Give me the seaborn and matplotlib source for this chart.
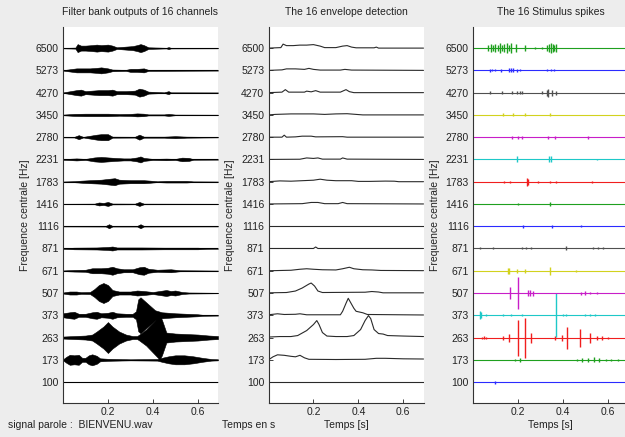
import numpy as np
import seaborn as sns
import matplotlib
matplotlib.use("Agg")
import matplotlib.pyplot as plt

# centre frequencies of the 16 channels (bottom to top)
freqs = [100, 173, 263, 373, 507, 671, 871, 1116, 1416, 1783, 2231, 2780, 3450, 4270, 5273, 6500]
time_ticks = [0.2, 0.4, 0.6]

# filter bank output: (time s, half amplitude)
fb_env = {
    100: [(0, 0.2), (0.69, 0.2)],
    173: [(0.0, 0.5), (0.015, 3), (0.03, 5), (0.05, 4.5), (0.07, 5), (0.085, 2), (0.10, 2), (0.115, 4.5), (0.13, 5.5),
          (0.15, 4), (0.165, 1.5), (0.2, 1), (0.3, 0.5), (0.42, 0.8), (0.44, 2), (0.47, 3.5), (0.5, 4.5), (0.54, 4.5),
          (0.58, 3.5), (0.62, 2), (0.66, 0.8), (0.69, 0.5)],
    263: [(0, 1), (0.05, 1.5), (0.1, 2), (0.13, 3), (0.15, 6), (0.18, 11), (0.20, 15.5), (0.22, 11), (0.25, 6), (0.28, 3),
          (0.31, 1.5), (0.33, 1.5), (0.34, 3), (0.37, 8), (0.40, 15), (0.43, 22), (0.44, 18), (0.46, 5), (0.5, 4),
          (0.55, 3.5), (0.6, 3), (0.65, 2), (0.69, 1.5)],
    373: [(0, 2), (0.03, 3), (0.05, 3.5), (0.07, 1.5), (0.10, 1.5), (0.13, 3), (0.15, 3.5), (0.17, 2), (0.2, 2.5),
          (0.22, 3.5), (0.24, 2), (0.28, 1.5), (0.31, 1.5), (0.325, 4), (0.335, 16), (0.345, 18), (0.37, 13), (0.39, 9),
          (0.41, 5), (0.44, 3), (0.5, 2), (0.55, 1.5), (0.6, 1), (0.62, 0.5), (0.69, 0.3)],
    507: [(0, 0.5), (0.03, 1.5), (0.06, 1.5), (0.08, 0.8), (0.12, 1), (0.14, 4), (0.16, 8), (0.18, 10), (0.20, 8),
          (0.22, 3), (0.25, 1.5), (0.3, 1.5), (0.33, 2.5), (0.36, 2), (0.4, 1), (0.43, 2), (0.46, 3), (0.48, 2),
          (0.5, 2.5), (0.53, 1), (0.56, 0.5), (0.69, 0.2)],
    671: [(0, 0.3), (0.05, 0.8), (0.1, 1), (0.13, 2.5), (0.17, 2.5), (0.2, 3), (0.22, 4), (0.24, 2.5), (0.27, 1.5),
          (0.31, 1.5), (0.34, 3.5), (0.36, 4), (0.38, 2), (0.42, 1), (0.48, 1.5), (0.52, 0.5), (0.69, 0.2)],
    871: [(0, 0.3), (0.05, 0.8), (0.15, 1), (0.2, 1.5), (0.22, 2), (0.24, 1), (0.35, 1), (0.45, 0.8), (0.6, 0.8),
          (0.64, 0.3), (0.69, 0.2)],
    1116: [(0, 0.2), (0.19, 0.3), (0.205, 2), (0.22, 0.3), (0.33, 0.3), (0.345, 2), (0.36, 0.3), (0.69, 0.2)],
    1416: [(0, 0.2), (0.14, 0.3), (0.16, 1.5), (0.18, 1), (0.2, 2), (0.22, 0.4), (0.32, 0.3), (0.34, 2), (0.36, 0.3),
           (0.69, 0.2)],
    1783: [(0, 0.2), (0.05, 0.5), (0.08, 1), (0.12, 1.5), (0.17, 2), (0.21, 3), (0.23, 3.5), (0.25, 2), (0.3, 1.5),
           (0.36, 1.5), (0.39, 1), (0.42, 0.4), (0.46, 0.8), (0.55, 0.8), (0.58, 0.3), (0.69, 0.2)],
    2231: [(0, 0.3), (0.06, 1), (0.1, 0.5), (0.14, 2), (0.17, 2.5), (0.2, 2), (0.23, 1.5), (0.27, 1), (0.3, 1),
           (0.33, 2), (0.345, 3), (0.36, 1.5), (0.4, 0.5), (0.46, 0.8), (0.5, 0.5), (0.53, 1.8), (0.56, 1.5),
           (0.58, 0.3), (0.69, 0.2)],
    2780: [(0, 0.2), (0.05, 0.3), (0.07, 2), (0.09, 0.3), (0.15, 2.5), (0.17, 3), (0.20, 3), (0.22, 0.5), (0.32, 0.4),
           (0.34, 2.5), (0.36, 0.5), (0.45, 0.5), (0.5, 1), (0.55, 0.5), (0.69, 0.2)],
    3450: [(0, 0.3), (0.05, 1), (0.1, 1.2), (0.2, 1.2), (0.25, 0.8), (0.3, 1), (0.33, 1.5), (0.36, 1.2), (0.38, 0.5),
           (0.45, 0.5), (0.47, 1), (0.5, 0.3), (0.69, 0.2)],
    4270: [(0, 0.2), (0.06, 2.5), (0.08, 3), (0.1, 1.5), (0.13, 2), (0.16, 2.5), (0.2, 2.5), (0.22, 3), (0.24, 1.5),
           (0.28, 1.5), (0.32, 2), (0.34, 4), (0.36, 3), (0.38, 1), (0.45, 0.3), (0.47, 1.5), (0.48, 0.3), (0.69, 0.2)],
    5273: [(0, 0.2), (0.06, 2), (0.09, 2), (0.12, 2), (0.15, 2.5), (0.17, 3), (0.2, 2), (0.22, 0.8), (0.28, 0.5),
           (0.3, 1.5), (0.33, 1.5), (0.36, 2), (0.38, 0.5), (0.69, 0.2)],
    6500: [(0, 0.2), (0.055, 0.5), (0.065, 4), (0.08, 2.5), (0.1, 2.5), (0.13, 3), (0.15, 3.5), (0.17, 3), (0.2, 3.5),
           (0.22, 2.5), (0.24, 0.8), (0.28, 1.5), (0.31, 2), (0.33, 3), (0.345, 4), (0.36, 3), (0.38, 0.8),
           (0.46, 0.3), (0.47, 1), (0.48, 0.3), (0.69, 0.2)],
}

# detected envelopes: (time s, height)
env = {
    100: [(0, 0), (0.69, 0)],
    173: [(0, 0), (0.02, 3), (0.04, 5), (0.07, 4.5), (0.1, 3.5), (0.12, 3), (0.14, 4.5), (0.16, 2), (0.18, 0.5),
          (0.3, 0.3), (0.43, 0.5), (0.48, 1.5), (0.52, 1.5), (0.6, 1), (0.69, 0.8)],
    263: [(0, 0.5), (0.05, 1), (0.1, 1), (0.13, 2), (0.17, 7), (0.2, 13), (0.215, 17), (0.225, 13), (0.24, 5),
          (0.26, 1.5), (0.3, 1), (0.35, 1), (0.38, 2), (0.41, 8), (0.43, 17), (0.445, 22), (0.455, 19), (0.47, 8),
          (0.49, 4), (0.51, 3.5), (0.53, 2), (0.6, 1.5), (0.69, 1)],
    373: [(0, 0.5), (0.04, 1.5), (0.07, 0.8), (0.12, 1), (0.14, 1.5), (0.17, 0.5), (0.32, 0.5), (0.33, 4), (0.345, 12),
          (0.355, 17), (0.365, 13), (0.38, 7), (0.39, 4), (0.42, 2.5), (0.44, 0.8), (0.69, 0.3)],
    507: [(0, 0.2), (0.08, 0.5), (0.12, 2), (0.15, 5), (0.18, 9), (0.19, 10), (0.205, 7), (0.22, 2), (0.24, 0.5),
          (0.43, 0.8), (0.46, 1.5), (0.49, 1), (0.51, 0.2), (0.69, 0.2)],
    671: [(0, 0), (0.1, 0.5), (0.14, 1.5), (0.17, 2), (0.2, 1.5), (0.24, 1), (0.3, 0.8), (0.33, 2), (0.36, 3.5),
          (0.38, 2), (0.42, 1), (0.46, 0.8), (0.5, 0.3), (0.69, 0.1)],
    871: [(0, 0), (0.2, 0), (0.21, 1.5), (0.22, 0), (0.69, 0)],
    1116: [(0, 0), (0.69, 0)],
    1416: [(0, 0), (0.15, 0.3), (0.19, 1.5), (0.22, 1.5), (0.25, 0.3), (0.31, 0.3), (0.33, 1.5), (0.35, 0.3), (0.69, 0)],
    1783: [(0, 0), (0.05, 0.8), (0.1, 0.5), (0.15, 1), (0.2, 1.5), (0.23, 2.5), (0.26, 1.5), (0.3, 1), (0.37, 1),
           (0.4, 0.3), (0.45, 0.3), (0.52, 0.6), (0.56, 0.5), (0.58, 0), (0.69, 0)],
    2231: [(0, 0), (0.14, 0.2), (0.17, 1.5), (0.2, 1), (0.22, 1.5), (0.24, 0.3), (0.32, 0.3), (0.33, 1.5), (0.35, 0.3),
           (0.69, 0)],
    2780: [(0, 0), (0.06, 0), (0.07, 2), (0.08, 0), (0.12, 0.3), (0.15, 1), (0.19, 1), (0.21, 0.3), (0.33, 0.5),
           (0.35, 0), (0.69, 0)],
    3450: [(0, 0), (0.03, 0.5), (0.1, 1), (0.2, 1), (0.25, 0.5), (0.3, 1), (0.35, 1.2), (0.39, 0.5), (0.42, 0),
           (0.69, 0)],
    4270: [(0, 0), (0.06, 0.5), (0.075, 3), (0.09, 0.5), (0.16, 0.5), (0.17, 1.5), (0.19, 0.8), (0.21, 2), (0.23, 0.5),
           (0.32, 0.5), (0.345, 3), (0.36, 1), (0.38, 0), (0.69, 0)],
    5273: [(0, 0), (0.06, 0.5), (0.08, 1.5), (0.12, 1.5), (0.16, 1), (0.18, 2), (0.2, 1), (0.23, 0.3), (0.32, 0.3),
           (0.34, 1), (0.37, 0.3), (0.69, 0)],
    6500: [(0, 0), (0.055, 0.5), (0.065, 4), (0.08, 2.5), (0.11, 2.5), (0.14, 3), (0.17, 3), (0.2, 3.5), (0.23, 2),
           (0.25, 0.5), (0.3, 0.5), (0.33, 2), (0.35, 2.5), (0.37, 1), (0.39, 0.3), (0.47, 0.3), (0.48, 1), (0.49, 0),
           (0.69, 0)],
}

# stimulus spikes: (time s, half height)
spikes = {
    100: [(0.1, 1.5)],
    173: [(0.185, 1), (0.21, 2), (0.465, 1), (0.487, 2), (0.51, 2), (0.54, 2.5), (0.56, 2), (0.59, 1), (0.616, 1),
          (0.645, 1)],
    263: [(0.04, 1), (0.05, 1.5), (0.06, 1), (0.135, 2), (0.16, 4), (0.2, 18), (0.23, 20), (0.26, 5), (0.367, 2),
          (0.395, 3), (0.417, 11), (0.476, 9), (0.523, 5), (0.55, 2), (0.575, 2), (0.6, 1)],
    373: [(0.031, 4), (0.035, 3), (0.06, 1), (0.135, 1), (0.17, 1), (0.22, 1), (0.369, 22), (0.4, 1), (0.415, 1),
          (0.5, 1), (0.52, 1), (0.545, 1)],
    507: [(0.164, 6), (0.2, 16.5), (0.245, 3), (0.255, 3), (0.265, 2.5), (0.48, 1.5), (0.5, 2), (0.52, 1), (0.55, 1)],
    671: [(0.155, 3), (0.16, 3), (0.194, 2), (0.231, 2), (0.342, 4), (0.46, 0.8)],
    871: [(0.031, 1), (0.09, 1), (0.216, 1), (0.238, 1), (0.26, 1), (0.416, 2), (0.535, 1), (0.557, 1), (0.58, 1)],
    1116: [(0.224, 1.5), (0.351, 1.5), (0.48, 1)],
    1416: [(0.2, 1), (0.342, 2)],
    1783: [(0.137, 1), (0.165, 1), (0.239, 4), (0.245, 3), (0.29, 1), (0.342, 1), (0.37, 1), (0.53, 1)],
    2231: [(0.194, 3), (0.337, 3), (0.345, 3), (0.55, 0.5)],
    2780: [(0.172, 1.5), (0.2, 1.5), (0.216, 1.5), (0.335, 1.5), (0.365, 1.5), (0.513, 1.5)],
    3450: [(0.135, 1.5), (0.18, 1.5), (0.23, 1.5), (0.342, 1.5)],
    4270: [(0.076, 1.5), (0.127, 1.5), (0.172, 1.5), (0.195, 1.5), (0.21, 1.5), (0.22, 1.5), (0.305, 1.5), (0.33, 3),
           (0.335, 4), (0.35, 3), (0.37, 2)],
    5273: [(0.075, 1.5), (0.085, 1), (0.1, 1), (0.125, 1.5), (0.16, 2), (0.17, 2), (0.18, 2), (0.195, 1.5), (0.21, 1),
           (0.33, 1), (0.345, 1), (0.36, 1)],
    6500: [(0.068, 3), (0.078, 4), (0.09, 3), (0.1, 4), (0.11, 3), (0.122, 5), (0.13, 3), (0.14, 4), (0.15, 5),
           (0.16, 3), (0.17, 5), (0.19, 4), (0.23, 3), (0.275, 1), (0.305, 1), (0.33, 3), (0.34, 4), (0.348, 5),
           (0.355, 4), (0.362, 3), (0.37, 4)],
}

# matlab colour order b g r c m y k, lightened a bit
cycle = ["#2b2bff", "#1fa01f", "#f01e1e", "#1ec8c8", "#c81ec8", "#d2d21e", "#505050"]

sns.set_theme(style="ticks")
plt.rcParams["font.family"] = ["Liberation Sans", "DejaVu Sans"]
plt.rcParams["font.size"] = 7.5

scale = 1 / 22.3  # channel spacing in the read-off units
fig = plt.figure(figsize=(6.25, 4.37), dpi=100, facecolor="#ededed")
lefts = [0.1008, 0.4296, 0.7568]
titles = ["Filter bank outputs of 16 channels", "The 16 envelope detection", "The 16 Stimulus spikes"]
axes = [fig.add_axes([l, 0.0778, 0.248, 0.860]) for l in lefts]

for i, f in enumerate(freqs):
    base = i + 1
    # filter bank
    t, a = np.array(fb_env[f]).T
    axes[0].fill_between(t, base - a * scale, base + a * scale, color="black", lw=0.4)
    axes[0].axhline(base, color="black", lw=0.8)
    # envelopes
    t, h = np.array(env[f]).T
    sns.lineplot(x=t, y=base + h * scale, ax=axes[1], color="#2a2a2a", lw=0.8, estimator=None, sort=False)
    # spikes
    col = cycle[i % 7]
    axes[2].axhline(base, color=col, lw=0.8)
    t, h = np.array(spikes[f]).T
    axes[2].vlines(t, base - h * scale, base + h * scale, color=col, lw=1.0)

for ax, title in zip(axes, titles):
    ax.set_facecolor("white")
    ax.set_xlim(0, 0.69)
    ax.set_ylim(0.06, 16.94)
    ax.set_yticks(range(1, 17))
    ax.set_yticklabels([str(f) for f in freqs])
    ax.set_xticks(time_ticks)
    ax.set_xticklabels(["0.2", "0.4", "0.6"])
    ax.tick_params(direction="in", length=3, width=0.6, pad=3, labelsize=7.5, colors="#222222")
    for s in ["top", "right"]:
        ax.spines[s].set_visible(False)
    for s in ["left", "bottom"]:
        ax.spines[s].set_linewidth(0.8)
        ax.spines[s].set_color("#333333")
    ax.set_title(title, fontsize=7.5, pad=9, color="#222222")
    ax.set_ylabel("Frequence centrale [Hz]", fontsize=7.5, labelpad=4, color="#222222")

axes[1].set_xlabel("Temps [s]", fontsize=7.5, labelpad=2, color="#222222")
axes[2].set_xlabel("Temps [s]", fontsize=7.5, labelpad=2, color="#222222")
fig.text(0.013, 0.021, "signal parole :  BIENVENU.wav", fontsize=7.5, color="#222222")
fig.text(0.355, 0.021, "Temps en s", fontsize=7.5, color="#222222")

fig.savefig("out.png", dpi=100, facecolor=fig.get_facecolor())
